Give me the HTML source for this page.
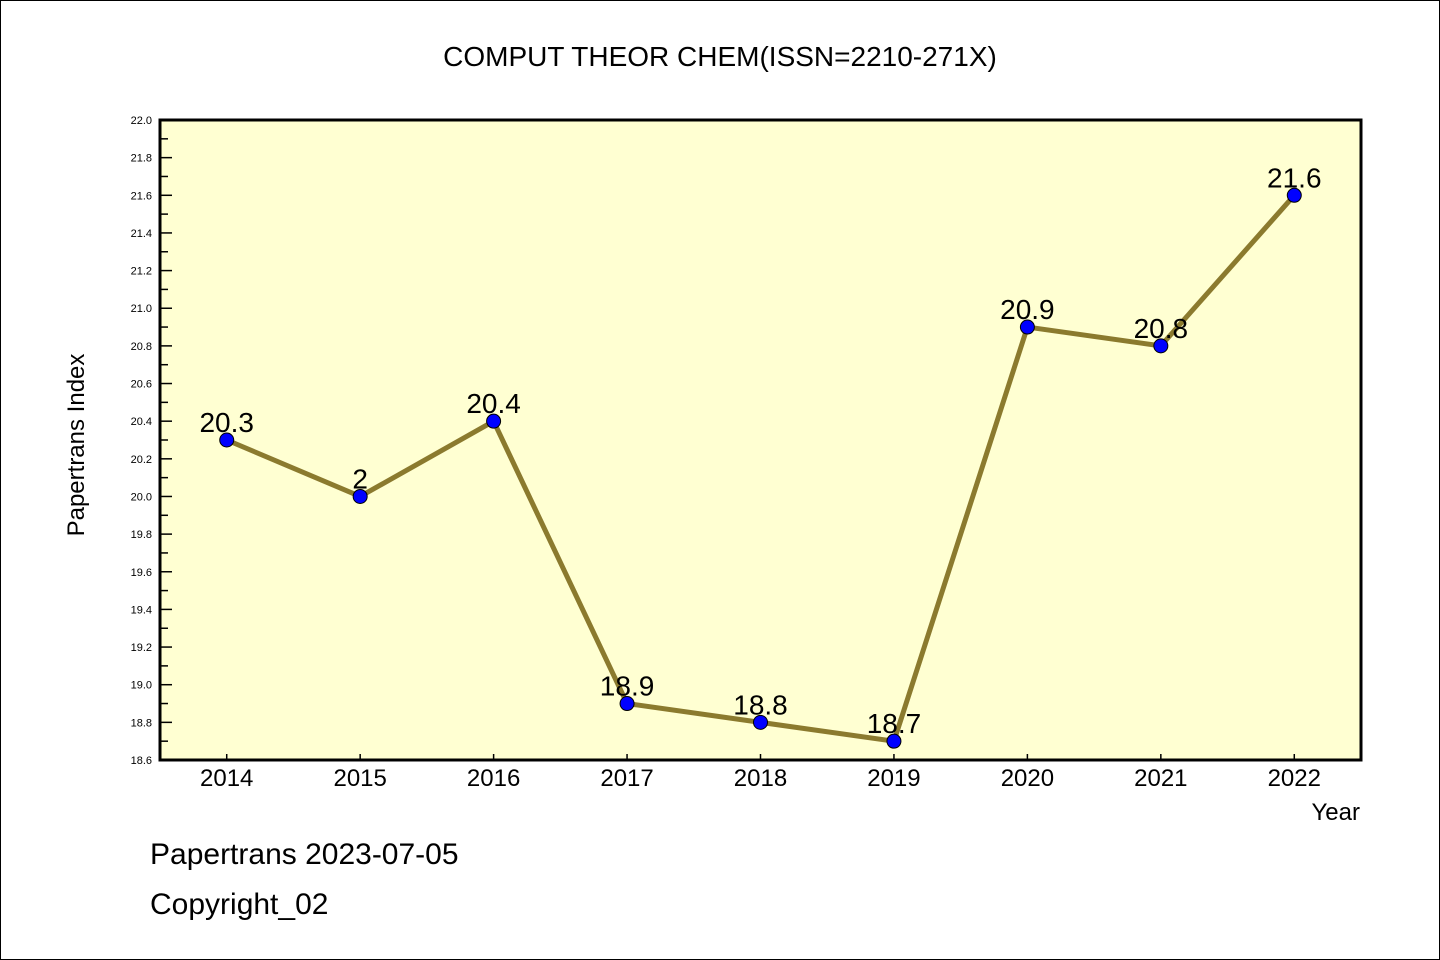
<!DOCTYPE html>
<html><head><meta charset="utf-8"><style>
body{margin:0;background:#fff}
svg{display:block}
text{font-family:"WenQuanYi Zen Hei","Liberation Sans",sans-serif;fill:#000}
</style></head><body>
<svg id="chart" width="1440" height="960" viewBox="0 0 1440 960">
<rect x="0.5" y="0.5" width="1439" height="959" fill="#fff" stroke="#000"/>
<text x="720" y="66" font-size="28" text-anchor="middle">COMPUT THEOR CHEM(ISSN=2210-271X)</text>
<rect x="160" y="120" width="1201" height="640" fill="#ffffd2"/>
<g id="yaxis"></g>
<g id="xaxis"></g>
<g id="series"></g>
<rect x="160" y="120" width="1201" height="640" fill="none" stroke="#000" stroke-width="3"/>
<text transform="translate(84,445) rotate(-90)" font-size="24" text-anchor="middle">Papertrans Index</text>
<text x="1360" y="820" font-size="24" text-anchor="end">Year</text>
<text x="150" y="864" font-size="30">Papertrans 2023-07-05</text>
<text x="150" y="914" font-size="30">Copyright_02</text>
</svg>
<script>
const years=[2014,2015,2016,2017,2018,2019,2020,2021,2022];
const values=[20.3,20.0,20.4,18.9,18.8,18.7,20.9,20.8,21.6];
const valueLabels=["20.3","2","20.4","18.9","18.8","18.7","20.9","20.8","21.6"];
const yTickLabels=["18.6","18.8","19.0","19.2","19.4","19.6","19.8","20.0","20.2","20.4","20.6","20.8","21.0","21.2","21.4","21.6","21.8","22.0"];
const NS="http://www.w3.org/2000/svg";
const L=160,R=1361,T=120,B=760,ymin=18.6,ymax=22.0,xmin=2013.5,xmax=2022.5;
const xs=v=>L+(v-xmin)/(xmax-xmin)*(R-L);
const ys=v=>B-(v-ymin)/(ymax-ymin)*(B-T);
function mk(tag,attrs,parent){const e=document.createElementNS(NS,tag);for(const k in attrs)e.setAttribute(k,attrs[k]);parent.appendChild(e);return e;}
const ya=document.getElementById('yaxis'),xa=document.getElementById('xaxis'),sg=document.getElementById('series');
for(let i=0;i<=34;i++){const v=ymin+i*0.1,y=ys(v);const major=i%2===0;
 const t=mk('line',{x1:L,x2:L+(major?12:8),y1:y,y2:y,stroke:'#000','stroke-width':1.5},ya);
 
 }
yTickLabels.forEach(s=>{const tx=mk('text',{x:L-8,y:ys(parseFloat(s))+4,'font-size':11,'text-anchor':'end'},ya);tx.textContent=s;
 
 });
years.forEach(yr=>{const x=xs(yr);
 const t=mk('line',{x1:x,x2:x,y1:B,y2:B-6,stroke:'#000','stroke-width':1.5},xa);
 
 
 const tx=mk('text',{x:x,y:B+26,'font-size':24,'text-anchor':'middle'},xa);tx.textContent=yr;
 
 });
const pts=years.map((yr,i)=>xs(yr)+','+ys(values[i])).join(' ');
const pl=mk('polyline',{points:pts,fill:'none',stroke:'#8b7a2e','stroke-width':5,'stroke-linejoin':'round'},sg);


years.forEach((yr,i)=>{const x=xs(yr),y=ys(values[i]);
 const c=mk('circle',{cx:x,cy:y,r:7,fill:'#0000ff',stroke:'#000','stroke-width':1},sg);
 
 
 const tx=mk('text',{x:x,y:y-8,'font-size':28,'text-anchor':'middle'},sg);tx.textContent=valueLabels[i];
 
 });
</script>
</body></html>
